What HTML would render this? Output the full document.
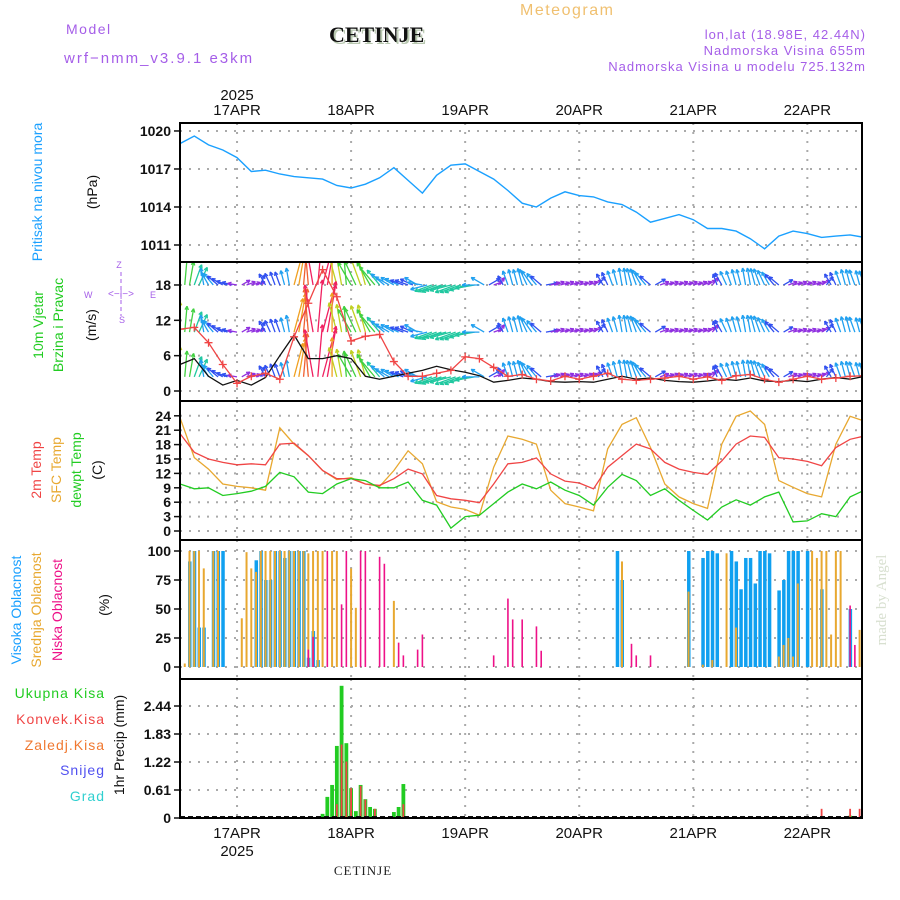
<!DOCTYPE html>
<html><head><meta charset="utf-8"><style>
html,body{margin:0;padding:0;background:#fff}
svg{display:block;font-family:"Liberation Sans",sans-serif}
</style></head><body>
<svg id="c" width="900" height="900" viewBox="0 0 900 900">
<g id="hdr">
<text x="66" y="34" font-size="14" fill="#a55ee8" letter-spacing="1.5">Model</text>
<text x="64" y="63" font-size="15" fill="#a55ee8" letter-spacing="2">wrf−nmm_v3.9.1 e3km</text>
<text x="331" y="44" font-size="22" font-weight="bold" font-family="Liberation Serif,serif" fill="#b8c8b0">CETINJE</text>
<text x="329" y="42" font-size="22" font-weight="bold" font-family="Liberation Serif,serif" fill="#111">CETINJE</text>
<text x="520" y="15" font-size="16" fill="#f0c070" letter-spacing="1.5">Meteogram</text>
<text x="866" y="39" font-size="13" fill="#a55ee8" text-anchor="end" letter-spacing="1">lon,lat (18.98E, 42.44N)</text>
<text x="866" y="55" font-size="13" fill="#a55ee8" text-anchor="end" letter-spacing="1">Nadmorska Visina 655m</text>
<text x="866" y="71" font-size="13" fill="#a55ee8" text-anchor="end" letter-spacing="1">Nadmorska Visina u modelu 725.132m</text>
<text x="237" y="100" font-size="15" fill="#111" text-anchor="middle">2025</text>
<text x="237" y="856" font-size="15" fill="#111" text-anchor="middle">2025</text>
<text x="363" y="875" font-size="13" fill="#222" text-anchor="middle" font-family="Liberation Serif,serif" letter-spacing="1">CETINJE</text>
<text transform="translate(886,600) rotate(-90)" font-size="15" fill="#d8e0d0" text-anchor="middle" font-family="Liberation Serif,serif">made by Angel</text>
</g>
<g font-size="14">
<text transform="translate(42,192) rotate(-90)" fill="#1aa0ff" text-anchor="middle">Pritisak na nivou mora</text>
<text transform="translate(97,192) rotate(-90)" fill="#111" text-anchor="middle">(hPa)</text>
<text transform="translate(43,325) rotate(-90)" fill="#22cc22" text-anchor="middle">10m Vjetar</text>
<text transform="translate(63,325) rotate(-90)" fill="#22cc22" text-anchor="middle">Brzina i Pravac</text>
<text transform="translate(96,325) rotate(-90)" fill="#111" text-anchor="middle">(m/s)</text>
<g fill="#a55ee8" font-size="9">
<text x="119" y="268" text-anchor="middle">Z</text><text x="84" y="298">W</text><text x="150" y="298">E</text><text x="122" y="323" text-anchor="middle">S</text>
<text x="121" y="297" text-anchor="middle" font-size="10">&lt;−|−&gt;</text>
<line x1="121" y1="272" x2="121" y2="316" stroke="#a55ee8" stroke-dasharray="4,3"/>
</g>
<text transform="translate(41,470) rotate(-90)" fill="#f04545" text-anchor="middle">2m Temp</text>
<text transform="translate(61,470) rotate(-90)" fill="#e8a830" text-anchor="middle">SFC Temp</text>
<text transform="translate(81,470) rotate(-90)" fill="#22cc22" text-anchor="middle">dewpt Temp</text>
<text transform="translate(102,470) rotate(-90)" fill="#111" text-anchor="middle">(C)</text>
<text transform="translate(21,610) rotate(-90)" fill="#1aa0ff" text-anchor="middle">Visoka Oblacnost</text>
<text transform="translate(41,610) rotate(-90)" fill="#e8a830" text-anchor="middle">Srednja Oblacnost</text>
<text transform="translate(62,610) rotate(-90)" fill="#ee1188" text-anchor="middle">Niska Oblacnost</text>
<text transform="translate(109,605) rotate(-90)" fill="#111" text-anchor="middle">(%)</text>
<text x="105" y="698" fill="#22cc22" text-anchor="end" letter-spacing="1">Ukupna Kisa</text>
<text x="105" y="724" fill="#f04545" text-anchor="end" letter-spacing="1">Konvek.Kisa</text>
<text x="105" y="750" fill="#f07830" text-anchor="end" letter-spacing="1">Zaledj.Kisa</text>
<text x="105" y="775" fill="#5050f0" text-anchor="end" letter-spacing="1">Snijeg</text>
<text x="105" y="801" fill="#30d0d0" text-anchor="end" letter-spacing="1">Grad</text>
<text transform="translate(124,745) rotate(-90)" fill="#111" text-anchor="middle">1hr Precip (mm)</text>
</g>
</svg>
<script>
const hours3=[0,3,6,9,12,15,18,21,24,27,30,33,36,39,42,45,48,51,54,57,60,63,66,69,72,75,78,81,84,87,90,93,96,99,102,105,108,111,114,117,120,123,126,129,132,135,138,141,144];
const pressure=[1019.0,1019.6,1018.9,1018.5,1017.9,1016.8,1016.9,1016.6,1016.4,1016.3,1016.2,1015.7,1015.5,1015.8,1016.3,1017.1,1016.1,1015.1,1016.5,1017.3,1017.4,1016.8,1016.2,1015.3,1014.3,1014.0,1014.7,1015.2,1014.9,1014.8,1014.4,1014.2,1013.6,1012.8,1013.1,1013.4,1013.0,1012.3,1012.3,1012.1,1011.5,1010.7,1011.7,1012.1,1011.9,1011.6,1011.7,1011.8,1011.6];
const windSpeed=[4.5,5.5,2.5,1.0,1.8,1.0,2.3,6.0,9.5,5.5,5.5,6.0,5.5,2.5,2.0,2.5,3.0,3.5,4.2,3.6,3.2,2.6,1.5,1.8,2.2,2.0,1.6,1.5,1.6,1.5,2.0,2.5,2.0,2.2,1.8,1.6,1.5,1.7,2.0,1.8,2.2,1.7,1.6,1.8,1.6,2.0,2.3,2.0,2.5];
const windGust=[10.5,10.8,8.2,4.5,1.3,2.5,3.0,2.0,9.2,14.9,20.6,16.0,8.5,9.3,9.6,5.0,2.5,2.5,3.0,3.5,5.8,5.5,4.0,2.5,2.8,2.0,1.7,2.5,2.0,2.5,3.0,2.0,1.8,2.0,2.2,2.5,2.0,2.4,1.8,2.6,2.8,2.0,1.5,2.0,2.5,2.0,2.2,2.5,2.6];
const arrowDir=[0,5,10,20,25,350,330,320,310,300,290,285,
280,60,70,75,70,20,330,335,340,340,345,350,
15,10,5,355,350,5,15,10,0,345,350,355,
330,335,340,345,330,320,320,310,300,300,295,290,
290,295,300,280,255,250,250,250,255,255,250,250,
250,255,260,270,300,60,70,40,330,340,345,345,
345,335,325,320,310,80,75,70,75,70,75,70,
75,70,70,60,40,330,335,340,345,350,350,345,
340,330,320,310,60,70,75,70,75,70,75,70,
75,70,70,60,40,340,330,335,340,345,345,350,
350,345,340,335,330,320,310,60,70,75,70,75,
70,75,70,60,40,330,335,340,345,345,340,345,340];
const arrowSpeed=[12,10,9,8,7,6,5,5,4.5,4,3.5,3,
2.5,2.5,2.5,2.5,2.5,3,4,4,4.5,4.5,5,6,
14,16,18,18,20,22,22,20,16,12,11,10,
10,10,11,11,10,9,7,6,5.5,5,5,4.5,
4.5,4.5,5,5,6,6.5,7,7.5,8,8,8,8,
8,7.5,7,6,5,4,2.5,2.5,3,5,5.5,5.5,
6,6,6,5,4.5,3.5,2.5,2.5,2.5,2.5,2.5,2.5,
2.5,2.5,2.5,2.5,3,4,4.5,5,5.5,6,6,6,
6,6,5.5,4.5,3.5,2.5,2.5,2.5,2.5,2.5,2.5,2.5,
2.5,2.5,2.5,2.5,2.5,3.5,4.5,5,5,5.5,5.5,6,
6,6,6,5.5,5,4.5,4,3,2.5,2.5,2.5,2.5,
2.5,2.5,2.5,2.5,3,4,4.5,5,5.5,5.5,5.5,5,5];
const arrowRows=[18,10,2.4];
const temp2m=[20.3,16.4,15.0,14.3,13.8,14.0,13.8,18.1,18.3,15.7,12.6,10.9,10.9,9.8,9.5,10.9,12.9,11.9,7.4,6.7,6.4,5.9,9.8,14.0,14.3,15.2,11.9,10.4,10.0,8.8,13.3,15.7,18.1,17.1,14.3,12.9,12.2,11.8,14.6,18.1,19.8,19.5,15.3,15.0,14.5,13.6,17.4,19.1,19.8];
const tempSfc=[23.6,15.3,12.9,9.8,9.3,9.0,8.5,21.5,18.1,15.7,12.6,10.7,11.1,9.8,9.3,12.6,16.7,14.0,6.1,5.0,4.5,3.3,13.3,19.8,19.1,18.1,8.5,5.7,5.0,4.2,17.1,22.2,23.6,17.4,9.8,7.1,5.7,4.7,18.1,23.9,25.0,22.2,10.5,9.1,7.8,7.1,18.1,23.9,22.9];
const tempDew=[9.8,8.8,9.0,7.4,7.8,8.3,9.3,12.2,11.3,8.1,7.8,9.8,10.9,10.5,9.0,9.0,10.2,6.4,5.4,0.6,3.0,3.3,5.7,8.1,9.8,8.8,10.2,8.5,7.4,5.4,9.1,11.8,10.5,7.4,8.8,6.4,4.3,2.3,5.0,6.5,5.4,7.1,8.1,1.9,2.1,3.6,3.0,7.1,8.5];
const cloudHighHour=[2,3,4,5,7,8,9,16,17,18,19,20,21,22,23,24,25,26,27,28,29,92,93,107,110,111,112,113,116,117,118,119,120,121,122,123,124,126,127,128,129,130,132,135,141];
const cloudHighPct=[91,100,34,34,100,100,100,92,100,75,75,100,100,94,100,100,100,100,8,31,6,100,75,100,94,100,100,98,100,91,67,94,94,72,100,100,98,66,75,100,100,100,100,67,50];
const cloudMidHour=[1,2,3,4,5,7,8,13,14,15,16,17,18,19,20,21,22,23,24,25,26,27,28,29,30,32,33,36,37,45,93,107,110,112,115,117,126,127,128,129,130,133,134,135,136,137,138,139,143];
const cloudMidPct=[3,100,100,100,85,100,100,42,99,85,82,100,100,100,100,100,100,100,100,100,100,98,100,100,100,100,100,85,51,57,91,65,2,6,98,34,9,19,25,9,72,100,94,100,100,28,100,100,32];
const cloudLowHour=[27,28,31,34,35,38,39,42,43,46,47,50,51,66,69,70,72,75,76,95,96,99,141,142];
const cloudLowPct=[15,26,100,54,100,100,100,95,89,21,10,15,28,10,59,41,41,35,14,20,10,10,53,19];
const precipHour=[30,31,32,33,34,35,36,37,38,39,40,41,45,46,47,135,141,143];
const precipTotal=[0.09,0.46,0.72,1.57,2.88,1.63,0.65,0.15,0.72,0.41,0.24,0.2,0.13,0.24,0.74,0.0,0.05,0.0];
const precipConv=[0,0,0,0.3,1.6,1.23,0.65,0,0.7,0.4,0,0.2,0,0,0.3,0.2,0.2,0.2];
const pressTicks=[1011,1014,1017,1020];
const windTicks=[0,6,12,18];
const tempTicks=[0,3,6,9,12,15,18,21,24];
const cloudTicks=[0,25,50,75,100];
const precipTicks=[0,0.61,1.22,1.83,2.44];
const dayLabels=["17APR","18APR","19APR","20APR","21APR","22APR"];
const dayHours=[12,36,60,84,108,132];

const NS="http://www.w3.org/2000/svg";
const svg=document.getElementById('c');
const X0=180,X1=862;
const xh=h=>X0+h*(X1-X0)/143.5;
function mk(tag,attrs,parent){const e=document.createElementNS(NS,tag);for(const k in attrs)e.setAttribute(k,attrs[k]);(parent||svg).appendChild(e);return e;}
const panels=[
 {name:'pressure',top:123,bot:262,y:v=>245-(v-1011)*12.67,ticks:pressTicks,fmt:v=>v},
 {name:'wind',top:262,bot:401,y:v=>391-v*5.89,ticks:windTicks,fmt:v=>v},
 {name:'temperature',top:401,bot:540,y:v=>531-v*4.8,ticks:tempTicks,fmt:v=>v},
 {name:'cloud',top:540,bot:679,y:v=>667-v*1.16,ticks:cloudTicks,fmt:v=>v},
 {name:'precip',top:679,bot:818,y:v=>818-v*45.9,ticks:precipTicks,fmt:v=>v===0?'0':v.toFixed(2)}
];
const defs=mk('defs',{});
panels.forEach((p,i)=>{
 const cp=mk('clipPath',{id:'clip'+i},defs);
 mk('rect',{x:X0,y:p.top,width:X1-X0,height:p.bot-p.top},cp);
 const g=mk('g',{});
 
 
 p.ticks.forEach(t=>{
  const y=p.y(t);
  mk('line',{x1:X0,x2:X1,y1:y,y2:y,stroke:'#aaa','stroke-width':2,'stroke-dasharray':'2,7'},g);
  mk('line',{x1:X0-6,x2:X0,y1:y,y2:y,stroke:'#111','stroke-width':1.5},g);
  const tx=mk('text',{x:X0-9,y:y+5,'font-size':14,'font-weight':'bold','text-anchor':'end',fill:'#111'},g);
  tx.textContent=p.fmt(t);
  
  
 });
 dayHours.forEach(h=>{mk('line',{x1:xh(h),x2:xh(h),y1:p.top,y2:p.bot,stroke:'#aaa','stroke-width':2,'stroke-dasharray':'2,7'},g);});
 p.g=mk('g',{'clip-path':'url(#clip'+i+')'});
 
 
});
dayLabels.forEach((d,i)=>{
 const t1=mk('text',{x:xh(dayHours[i]),y:115,'font-size':15,'text-anchor':'middle',fill:'#111'});t1.textContent=d;
 
 
 const t2=mk('text',{x:xh(dayHours[i]),y:838,'font-size':15,'text-anchor':'middle',fill:'#111'});t2.textContent=d;
 
 
});
function line(p,vals,color,name,w){
 const d=vals.map((v,i)=>(i?'L':'M')+xh(hours3[i]).toFixed(1)+','+p.y(v).toFixed(1)).join('');
 const e=mk('path',{d,fill:'none',stroke:color,'stroke-width':w||1.3},p.g);
 
 
 return e;
}
line(panels[0],pressure,'#1aa0ff','pressure-line',1.4);
function arrowColor(s){if(s<3)return'#9030e0';if(s<5)return'#3050f0';if(s<6.5)return'#20a0f0';if(s<9)return'#20c8a0';if(s<11)return'#40d040';if(s<14)return'#c0d020';if(s<17)return'#f0a020';if(s<20)return'#f06030';return'#f02060';}
const pw=panels[1];
arrowRows.forEach((base,r)=>{
 arrowSpeed.forEach((s,h)=>{
  const x=xh(h),y=pw.y(base),L=4+s*2.2,a=arrowDir[h]*Math.PI/180;
  const x2=x+L*Math.sin(a),y2=y-L*Math.cos(a);
  const c=arrowColor(s);
  const g=mk('g',{stroke:c,'stroke-width':1.3,fill:'none'},pw.g);
  
  
  mk('line',{x1:x,y1:y,x2,y2},g);
  const hl=4;
  [a+Math.PI-0.45,a+Math.PI+0.45].forEach(b=>mk('line',{x1:x2,y1:y2,x2:x2+hl*Math.sin(b),y2:y2-hl*Math.cos(b)},g));
 });
});
line(pw,windSpeed,'#111','wind-speed-line',1.3);
line(pw,windGust,'#f04545','wind-gust-line',1.3);
windGust.forEach((v,i)=>{
 const x=xh(hours3[i]),y=pw.y(v);
 const e=mk('path',{d:`M${x-4},${y}H${x+4}M${x},${y-4}V${y+4}`,stroke:'#f04545','stroke-width':1.3},pw.g);
 
 
});
const pt=panels[2];
line(pt,tempSfc,'#e8a830','sfc-temp-line');
line(pt,temp2m,'#f04545','temp-2m-line');
line(pt,tempDew,'#22cc22','dewpoint-line');
const pc=panels[3];
function bars(p,hrs,vals,color,w,off,name){
 hrs.forEach((h,i)=>{
  const y=p.y(vals[i]),yb=p.y(0);
  const e=mk('rect',{x:xh(h)+off,y,width:w,height:Math.max(0,yb-y),fill:color},p.g);
  
  
 });
}
bars(pc,cloudHighHour,cloudHighPct,'#10a0f0',3.5,-1.5,'cloud-high-bar');
bars(pc,cloudMidHour,cloudMidPct,'#e8a830',2,-1,'cloud-mid-bar');
bars(pc,cloudLowHour,cloudLowPct,'#ee1188',1.6,-0.8,'cloud-low-bar');
const pp=panels[4];
bars(pp,precipHour,precipTotal,'#22cc22',3.8,-1.9,'precip-total-bar');
bars(pp,precipHour,precipConv,'#f04545',1.8,-0.9,'precip-convective-bar');
mk('line',{x1:X0,x2:X1,y1:817,y2:817,stroke:'#111','stroke-width':2,'stroke-dasharray':'5,3'});
panels.forEach(p=>{
 const r=mk('rect',{x:X0,y:p.top,width:X1-X0,height:p.bot-p.top,fill:'none',stroke:'#000','stroke-width':2});
 
 
});
</script>
</body></html>
